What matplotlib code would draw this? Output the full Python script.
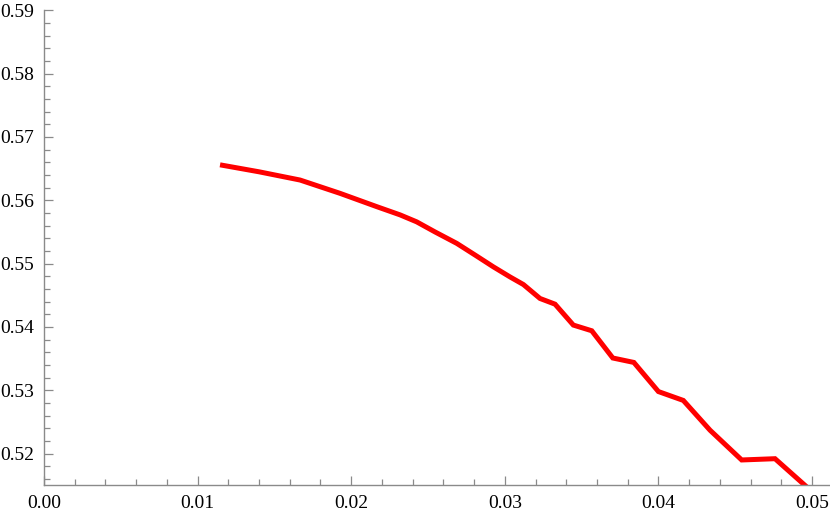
import matplotlib.pyplot as plt
from matplotlib.ticker import MultipleLocator, FormatStrFormatter

# values
x = [0.01146, 0.01400, 0.01667, 0.01927, 0.02166, 0.02318, 0.02426, 0.02546,
     0.02687, 0.02810, 0.02925, 0.03034, 0.03121, 0.03229, 0.03327, 0.03446,
     0.03566, 0.03703, 0.03840, 0.04000, 0.04162, 0.04336, 0.04542, 0.04759,
     0.05000]
y = [0.5656, 0.5645, 0.5632, 0.5611, 0.5590, 0.5577, 0.5566, 0.5550,
     0.5532, 0.5513, 0.5495, 0.5479, 0.5467, 0.5445, 0.5436, 0.5403,
     0.5394, 0.5351, 0.5344, 0.5298, 0.5284, 0.5237, 0.5190, 0.5192,
     0.5140]

plt.rcParams['font.family'] = ['Liberation Serif', 'DejaVu Serif']

fig = plt.figure(figsize=(8.3, 5.13), dpi=100)
ax = fig.add_axes([44 / 830, (513 - 485.3) / 513, 1 - 44 / 830, (485.3 - 10.3) / 513])

ax.plot(x, y, color='red', linewidth=3.6, solid_joinstyle='miter',
        solid_capstyle='butt', clip_on=True)

ax.set_xlim(0, 0.05117)
ax.set_ylim(0.515, 0.59)

ax.xaxis.set_major_locator(MultipleLocator(0.01))
ax.xaxis.set_minor_locator(MultipleLocator(0.002))
ax.yaxis.set_major_locator(MultipleLocator(0.01))
ax.yaxis.set_minor_locator(MultipleLocator(0.002))
ax.xaxis.set_major_formatter(FormatStrFormatter('%.2f'))
ax.yaxis.set_major_formatter(FormatStrFormatter('%.2f'))

for s in ['top', 'right']:
    ax.spines[s].set_visible(False)
for s in ['left', 'bottom']:
    ax.spines[s].set_color('#8a8a8a')
    ax.spines[s].set_linewidth(1.0)

ax.tick_params(which='both', direction='in', color='#8a8a8a', width=0.9,
               labelsize=14, labelcolor='black')
ax.tick_params(which='major', length=6.5, pad=7)
ax.tick_params(which='minor', length=4)

fig.savefig('out.png', dpi=100)
